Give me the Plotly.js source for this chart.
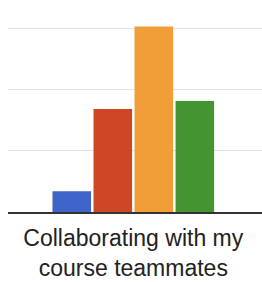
<!DOCTYPE html>
<html>
<head>
<meta charset="utf-8">
<script src="https://cdn.plot.ly/plotly-3.0.1.min.js"></script>
<style>html,body{margin:0;padding:0;background:#fff;}#chart{width:262px;height:282px;}</style>
</head>
<body>
<div id="chart"></div>
<script>
const categories = ["Collaborating with my<br>course teammates"];
const seriesNames = ["Series A", "Series B", "Series C", "Series D"];
const seriesValues = [[3.4], [16.9], [30.4], [18.2]];
const seriesColors = ["#3d64c8", "#cf4627", "#f19d38", "#449532"];

const traces = seriesNames.map((name, i) => ({
  type: "bar",
  name: name,
  x: categories,
  y: seriesValues[i],
  marker: {color: seriesColors[i]},
  hoverinfo: "none"
}));

const layout = {
  width: 262,
  height: 282,
  margin: {l: 8, r: 0, t: 0, b: 70},
  paper_bgcolor: "#fff",
  plot_bgcolor: "#fff",
  showlegend: false,
  barmode: "group",
  bargap: 0.354,
  bargroupgap: 0.06,
  xaxis: {
    type: "category",
    range: [-0.4933, 0.5067],
    showgrid: false,
    showline: true,
    linecolor: "#333",
    linewidth: 2,
    ticks: "",
    ticklabelstandoff: 4,
    tickfont: {family: "Liberation Sans, Arial, sans-serif", size: 23, color: "#222"},
    fixedrange: true
  },
  yaxis: {
    range: [0, 34.75],
    dtick: 10,
    showticklabels: false,
    showgrid: true,
    gridcolor: "#e2e2e2",
    gridwidth: 1,
    zeroline: false,
    ticks: "",
    fixedrange: true
  }
};

Plotly.newPlot("chart", traces, layout, {displayModeBar: false, staticPlot: true});
</script>
</body>
</html>
